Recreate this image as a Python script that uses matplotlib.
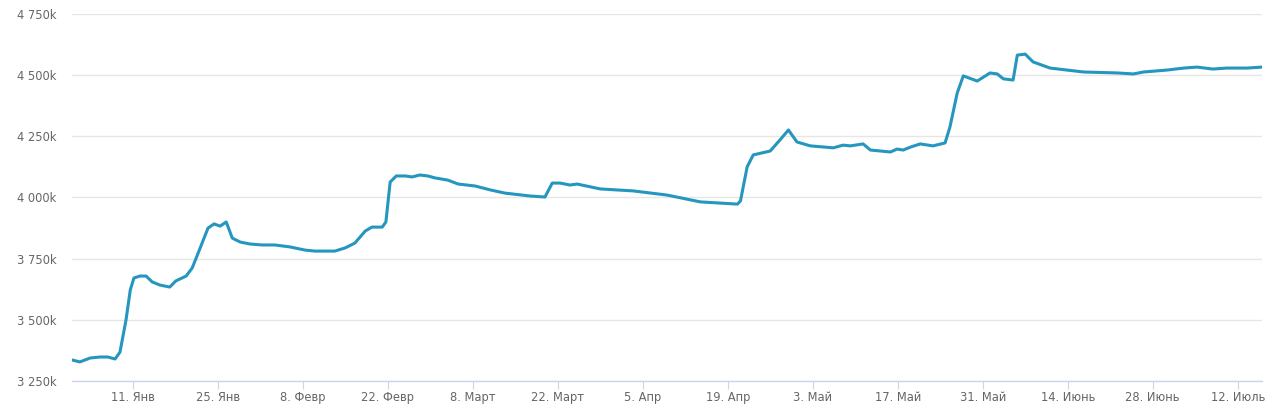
import numpy as np
import pandas as pd
import matplotlib
matplotlib.use("Agg")
import matplotlib.pyplot as plt

# days since 1 Jan, values in thousands
days = [0, 1.3, 3.0, 4.6, 5.9, 7.1, 7.9, 8.9, 9.6, 10.2, 11.2, 12.2, 13.2, 14.5,
        16.1, 17.1, 18.8, 19.8, 21.1, 22.4, 23.4, 24.4, 25.4, 26.4, 27.7, 29.3,
        31.3, 33.4, 35.9, 38.4, 40.0, 43.3, 45.0, 46.6, 48.3, 49.4, 51.1, 51.7,
        52.4, 53.4, 54.9, 56.0, 57.3, 58.6, 59.8, 61.9, 63.6, 66.4, 68.9, 71.3,
        75.5, 77.9, 79.1, 80.4, 82.0, 83.2, 87.0, 92.4, 98.0, 103.5, 109.6, 110.1,
        111.2, 112.2, 115.0, 116.6, 118.0, 119.4, 121.6, 125.4, 127.0, 128.2,
        130.3, 131.5, 134.8, 135.9, 136.9, 138.1, 139.7, 141.8, 143.8, 144.6,
        145.8, 146.8, 149.1, 151.2, 152.4, 153.4, 155.0, 155.7, 157.0, 158.3,
        161.1, 166.6, 172.2, 174.8, 176.5, 180.4, 183.1, 185.3, 187.9, 190.2,
        193.5, 196.0]
values = [3336, 3328, 3344, 3348, 3348, 3340, 3368, 3500, 3622, 3671, 3679, 3679,
          3655, 3642, 3634, 3659, 3679, 3712, 3793, 3875, 3892, 3883, 3900, 3834,
          3818, 3810, 3806, 3806, 3798, 3785, 3781, 3781, 3794, 3814, 3863, 3879,
          3879, 3900, 4063, 4088, 4088, 4084, 4092, 4088, 4080, 4071, 4055, 4047,
          4031, 4018, 4006, 4002, 4059, 4059, 4051, 4055, 4035, 4027, 4010, 3982,
          3973, 3986, 4125, 4174, 4190, 4235, 4276, 4227, 4211, 4203, 4214, 4211,
          4219, 4194, 4186, 4198, 4194, 4206, 4219, 4211, 4223, 4288, 4427, 4497,
          4476, 4509, 4505, 4485, 4480, 4582, 4586, 4554, 4529, 4513, 4509, 4505,
          4513, 4521, 4529, 4533, 4525, 4529, 4529, 4533]

tick_dates = ["2019-01-11", "2019-01-25", "2019-02-08", "2019-02-22", "2019-03-08",
              "2019-03-22", "2019-04-05", "2019-04-19", "2019-05-03", "2019-05-17",
              "2019-05-31", "2019-06-14", "2019-06-28", "2019-07-12"]
tick_labels = ["11. Янв", "25. Янв", "8. Февр", "22. Февр", "8. Март", "22. Март",
               "5. Апр", "19. Апр", "3. Май", "17. Май", "31. Май", "14. Июнь",
               "28. Июнь", "12. Июль"]
y_ticks = [3250, 3500, 3750, 4000, 4250, 4500, 4750]

start = pd.Timestamp("2019-01-01")
x = [start + pd.Timedelta(days=d) for d in days]

fig = plt.figure(figsize=(12.8, 4.18), dpi=100)
ax = fig.add_axes([72 / 1280, 1 - 381 / 418, 1190 / 1280, 367 / 418])

ax.plot(x, values, color="#2596be", lw=2.2, solid_joinstyle="round",
        solid_capstyle="round", zorder=3)

ax.set_xlim(start, start + pd.Timedelta(days=196))
ax.set_ylim(3250, 4750)
ax.set_yticks(y_ticks)
ax.set_yticklabels(["{:,}k".format(v).replace(",", " ") for v in y_ticks])
ax.set_xticks(pd.to_datetime(tick_dates))
ax.set_xticklabels(tick_labels)

ax.grid(axis="y", color="#e6e6e6", lw=1)
ax.set_axisbelow(True)
for s in ["top", "right", "left"]:
    ax.spines[s].set_visible(False)
ax.spines["bottom"].set_color("#ccd6eb")
ax.spines["bottom"].set_linewidth(1)

ax.tick_params(axis="y", length=0, pad=11, labelsize=8.3, labelcolor="#666666")
ax.tick_params(axis="x", length=6, width=0.8, color="#ccd6eb", pad=1.5,
               labelsize=8.3, labelcolor="#666666")

fig.savefig("out.png", dpi=100, facecolor="white")
